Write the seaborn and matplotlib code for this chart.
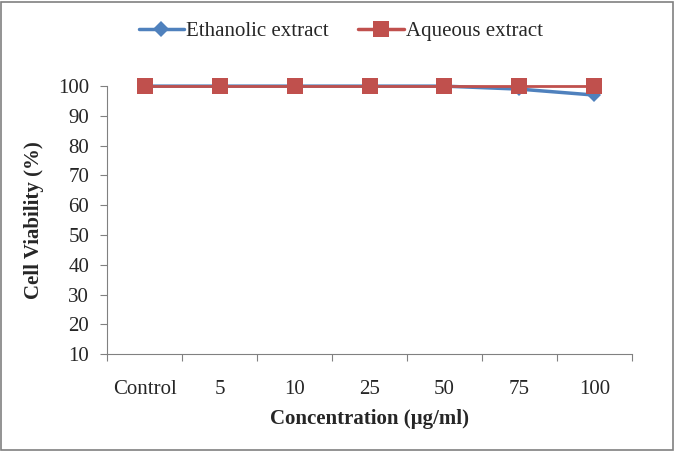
import numpy as np
import pandas as pd
import seaborn as sns
import matplotlib.pyplot as plt
from matplotlib.lines import Line2D

concentrations = ["Control", "5", "10", "25", "50", "75", "100"]
ethanolic = [100, 100, 100, 100, 100, 99, 97]
aqueous = [100, 100, 100, 100, 100, 100, 100]

df = pd.DataFrame({
    "Concentration": concentrations * 2,
    "Viability": ethanolic + aqueous,
    "Extract": ["Ethanolic extract"] * 7 + ["Aqueous extract"] * 7,
})

sns.set_style("white")
plt.rcParams["font.family"] = ["Liberation Serif", "DejaVu Serif"]

fig = plt.figure(figsize=(6.75, 4.51), dpi=100)
ax = fig.add_axes([0.159, 0.215, 0.777, 0.594])

colors = {"Ethanolic extract": "#4F81BD", "Aqueous extract": "#C0504D"}
markers = {"Ethanolic extract": "D", "Aqueous extract": "s"}
sizes = {"Ethanolic extract": 7, "Aqueous extract": 11.5}

for name in ["Ethanolic extract", "Aqueous extract"]:
    sub = df[df["Extract"] == name]
    sns.lineplot(data=sub, x="Concentration", y="Viability", ax=ax,
                 color=colors[name], marker=markers[name],
                 markersize=sizes[name], markeredgewidth=0,
                 linewidth=2.5 if name == "Ethanolic extract" else 2,
                 sort=False, clip_on=False)

ax.set_xlim(-0.5, 6.5)
ax.set_ylim(10, 100)
ax.set_yticks(np.arange(10, 101, 10))
ax.set_xticks(range(7))
ax.set_xticklabels(concentrations)
ax.set_xticks(np.arange(-0.5, 7, 1), minor=True)
ax.tick_params(axis="x", which="major", length=0, pad=19, labelsize=15)
ax.tick_params(axis="x", which="minor", length=5, width=0.8, color="#808080",
               direction="out", bottom=True)
ax.tick_params(axis="y", length=5, width=0.8, color="#808080",
               direction="out", left=True, labelsize=15, pad=8)

for side in ["top", "right"]:
    ax.spines[side].set_visible(False)
for side in ["left", "bottom"]:
    ax.spines[side].set_color("#808080")
    ax.spines[side].set_linewidth(0.8)

ax.set_xlabel("Concentration (\u00b5g/ml)", fontsize=15, fontweight="bold", labelpad=7)
ax.set_ylabel("Cell Viability (%)", fontsize=15, fontweight="bold", labelpad=10)

handles = [Line2D([0], [0], color=colors[n], marker=markers[n],
                  markersize=8 if n == "Ethanolic extract" else 11,
                  markeredgewidth=0, linewidth=2.5)
           for n in ["Ethanolic extract", "Aqueous extract"]]
fig.legend(handles, ["Ethanolic extract", "Aqueous extract"], loc="center",
           bbox_to_anchor=(0.505, 0.931), ncol=2, frameon=False, fontsize=15,
           handlelength=2.2, columnspacing=1.4, handletextpad=0.1)

fig.patches.append(plt.Rectangle((0.002, 0.003), 0.995, 0.993, transform=fig.transFigure,
                                 fill=False, edgecolor="#808080", linewidth=1.2))

fig.savefig("out.png", dpi=100, facecolor="white")
